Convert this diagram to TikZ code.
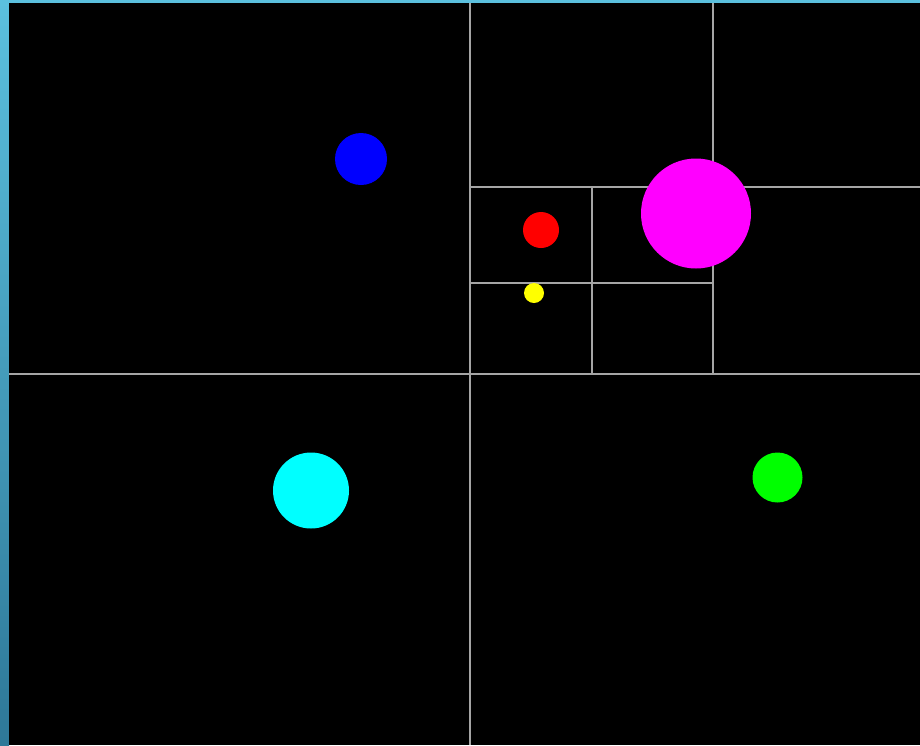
\documentclass[tikz,border=0pt]{standalone}
\definecolor{stripTop}{RGB}{91,192,222}
\definecolor{stripBot}{RGB}{46,120,152}
\definecolor{gridGray}{RGB}{165,165,165}
\definecolor{bodyBlue}{RGB}{0,0,255}
\definecolor{bodyRed}{RGB}{255,0,0}
\definecolor{bodyYellow}{RGB}{255,255,0}
\definecolor{bodyMagenta}{RGB}{255,0,255}
\definecolor{bodyCyan}{RGB}{0,255,255}
\definecolor{bodyGreen}{RGB}{0,255,0}
\tikzset{
  gridline/.style={draw=gridGray, line width=1.1pt}
}
\begin{document}
\begin{tikzpicture}[x=0.02cm, y=-0.02cm]
\useasboundingbox (0,0) rectangle (920,745);
% frame and background
\fill[stripTop] (0,0) rectangle (920,3);
\shade[top color=stripTop, bottom color=stripBot] (0,0) rectangle (9,745);
\fill[black] (9,3) rectangle (920,745);
% quadtree cells
\draw[gridline] (470,3) -- (470,745);
\draw[gridline] (9,374) -- (920,374);
\draw[gridline] (713,3) -- (713,374);
\draw[gridline] (470,187) -- (920,187);
\draw[gridline] (592,187) -- (592,374);
\draw[gridline] (470,283) -- (713,283);
% bodies
\fill[bodyBlue] (361,159) circle (26);
\fill[bodyRed] (541,230) circle (18);
\fill[bodyYellow] (534,293) circle (10);
\fill[bodyMagenta] (696,213.5) circle (55);
\fill[bodyCyan] (311,490.5) circle (38);
\fill[bodyGreen] (777.5,477.5) circle (25);
\end{tikzpicture}
\end{document}
